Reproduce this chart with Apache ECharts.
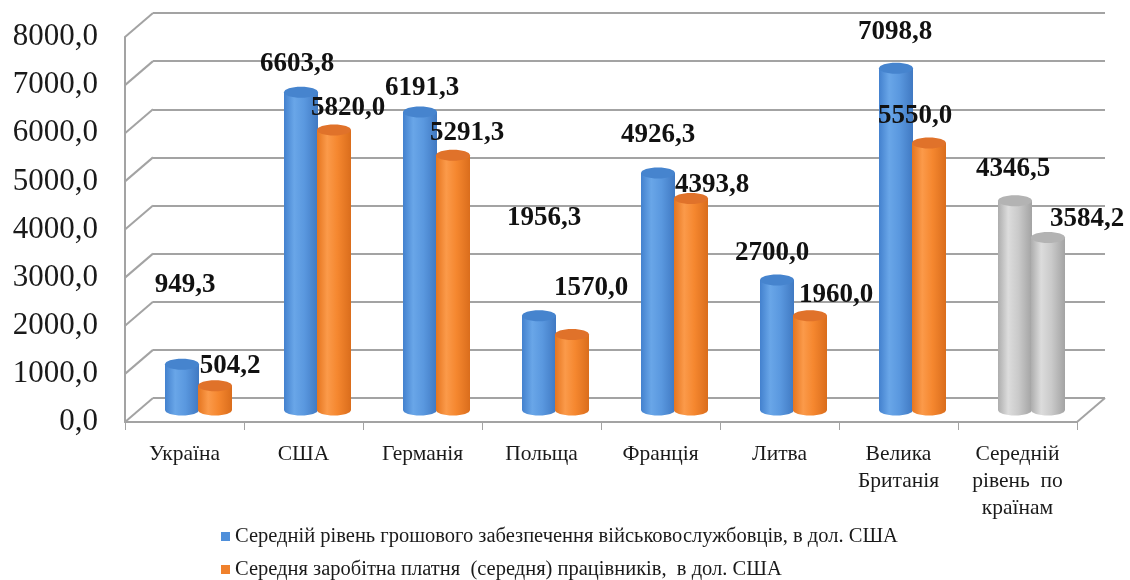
<!DOCTYPE html>
<html><head><meta charset="utf-8">
<script src="https://cdn.jsdelivr.net/npm/echarts@6/dist/echarts.min.js"></script>
<style>html,body{margin:0;padding:0;background:#fff}#c{width:1130px;height:580px}</style>
</head><body><div id="c"></div>
<script>
const categories = ['Україна','США','Германія','Польща','Франція','Литва','Велика\nБританія','Середній\nрівень  по\nкраїнам'];
const militaryPay = [949.3, 6603.8, 6191.3, 1956.3, 4926.3, 2700.0, 7098.8, 4346.5];
const averageWage = [504.2, 5820.0, 5291.3, 1570.0, 4393.8, 1960.0, 5550.0, 3584.2];
const yTicks = [0, 1000, 2000, 3000, 4000, 5000, 6000, 7000, 8000];
const seriesNames = [
  'Середній рівень грошового забезпечення військовослужбовців, в дол. США',
  'Середня заробітна платня  (середня) працівників,  в дол. США'
];
// label placement offsets (styling only)
const militaryLabelOffset = [[3,-79],[-4,-28],[2,-24],[5,-98],[0,-38],[-5,-27],[-1,-36],[-2,-32]];
const wageLabelOffset = [[15,-20],[14,-22],[14,-22],[19,-46],[21,-14],[26,-21],[-14,-27],[39,-18]];

const PAL = {
  blue:   {edge:'#4381CE', light:'#69A6E8', mid:'#5A98DF', dark:'#4079C2', top:'#4684CE', legend:'#4F8FDA'},
  orange: {edge:'#E5751F', light:'#FB9A4A', mid:'#F5872F', dark:'#DA6D1C', top:'#E0722A', legend:'#F0812C'},
  gray:   {edge:'#ADADAD', light:'#DCDCDC', mid:'#CACACA', dark:'#A3A3A3', top:'#B3B3B3', legend:'#C0C0C0'}
};
const fmt = v => Number(v).toFixed(1).replace('.', ',');
const SERIF = '"Liberation Serif", "DejaVu Serif", serif';
const DEPTH = [28, -24];
const GRID_W = 952, GRID_H = 385;

function barRenderer(side, palette, offsets) {
  return function (params, api) {
    const i = api.value(0), v = api.value(1);
    const top = api.coord([i, v]);
    const base = api.coord([i, 0]);
    const w = 34, ry = 5.5;
    const cx = top[0] + side * 16.5;
    const pal = (i === categories.length - 1) ? PAL.gray : palette;
    const grad = new echarts.graphic.LinearGradient(0, 0, 1, 0, [
      {offset: 0, color: pal.edge},
      {offset: 0.3, color: pal.light},
      {offset: 0.6, color: pal.mid},
      {offset: 1, color: pal.dark}
    ]);
    const off = offsets[i];
    return {
      type: 'group',
      children: [
        {type: 'rect', shape: {x: cx - w / 2, y: top[1], width: w, height: base[1] - top[1]}, style: {fill: grad}},
        {type: 'ellipse', shape: {cx: cx, cy: base[1], rx: w / 2, ry: ry}, style: {fill: grad}},
        {type: 'ellipse', shape: {cx: cx, cy: top[1], rx: w / 2, ry: ry}, style: {fill: pal.top}},
        {type: 'text', x: cx + off[0], y: top[1] + off[1], z2: 100,
          style: {text: fmt(v), fill: '#111', font: 'bold 27px ' + SERIF, align: 'center', verticalAlign: 'middle'}}
      ]
    };
  };
}

const chart = echarts.init(document.getElementById('c'));
const hiddenX = {type: 'category', data: categories, show: false};
const valueY = {type: 'value', min: 0, max: 8000, interval: 1000};
const legendText = {fontFamily: SERIF, fontSize: 20.5, color: '#1a1a1a'};

chart.setOption({
  animation: false,
  backgroundColor: '#fff',
  grid: [
    {left: 125 + DEPTH[0], top: 37 + DEPTH[1], width: GRID_W, height: GRID_H},
    {left: 125, top: 37, width: GRID_W, height: GRID_H},
    {left: 125 + DEPTH[0] / 2, top: 37 + DEPTH[1] / 2, width: GRID_W, height: GRID_H}
  ],
  xAxis: [
    Object.assign({gridIndex: 0}, hiddenX),
    {
      gridIndex: 1, type: 'category', data: categories,
      axisLine: {show: true, lineStyle: {color: '#A3A3A3', width: 2}},
      axisTick: {show: true, length: 8, lineStyle: {color: '#A3A3A3', width: 1}},
      axisLabel: {interval: 0, margin: 19, fontFamily: SERIF, fontSize: 21.5, color: '#1a1a1a', lineHeight: 27}
    },
    Object.assign({gridIndex: 2}, hiddenX)
  ],
  yAxis: [
    Object.assign({gridIndex: 0, axisLabel: {show: false}, axisLine: {show: false}, axisTick: {show: false},
      splitLine: {show: true, lineStyle: {color: '#A3A3A3', width: 2}}}, valueY),
    Object.assign({gridIndex: 1,
      axisLine: {show: true, lineStyle: {color: '#A3A3A3', width: 2}},
      axisTick: {show: false}, splitLine: {show: false},
      axisLabel: {margin: 27, fontFamily: SERIF, fontSize: 31, color: '#1a1a1a', formatter: fmt}}, valueY),
    Object.assign({gridIndex: 2, show: false, splitLine: {show: false}}, valueY)
  ],
  legend: [
    {left: 221, top: 526, padding: 0, itemWidth: 9, itemHeight: 9, itemGap: 0, textStyle: legendText,
      data: [{name: seriesNames[0], icon: 'rect', itemStyle: {color: PAL.blue.legend}}]},
    {left: 221, top: 559, padding: 0, itemWidth: 9, itemHeight: 9, itemGap: 0, textStyle: legendText,
      data: [{name: seriesNames[1], icon: 'rect', itemStyle: {color: PAL.orange.legend}}]}
  ],
  series: [
    {
      type: 'custom', name: 'frame', xAxisIndex: 1, yAxisIndex: 1, silent: true, z: 1,
      data: yTicks.map(v => [0, v]),
      renderItem: function (params, api) {
        const p = api.coord([0, api.value(1)]);
        const cs = params.coordSys;
        const ls = {stroke: '#A3A3A3', lineWidth: 2};
        const kids = [{type: 'line', shape: {x1: cs.x, y1: p[1], x2: cs.x + DEPTH[0], y2: p[1] + DEPTH[1]}, style: ls}];
        if (api.value(1) === 0) {
          kids.push({type: 'line', shape: {x1: cs.x + cs.width, y1: p[1], x2: cs.x + cs.width + DEPTH[0], y2: p[1] + DEPTH[1]}, style: ls});
        }
        return {type: 'group', children: kids};
      }
    },
    {
      type: 'custom', name: seriesNames[0], xAxisIndex: 2, yAxisIndex: 2, z: 3,
      itemStyle: {color: PAL.blue.legend},
      data: militaryPay.map((v, i) => [i, v]),
      renderItem: barRenderer(-1, PAL.blue, militaryLabelOffset)
    },
    {
      type: 'custom', name: seriesNames[1], xAxisIndex: 2, yAxisIndex: 2, z: 4,
      itemStyle: {color: PAL.orange.legend},
      data: averageWage.map((v, i) => [i, v]),
      renderItem: barRenderer(1, PAL.orange, wageLabelOffset)
    }
  ]
});
</script>
</body></html>
